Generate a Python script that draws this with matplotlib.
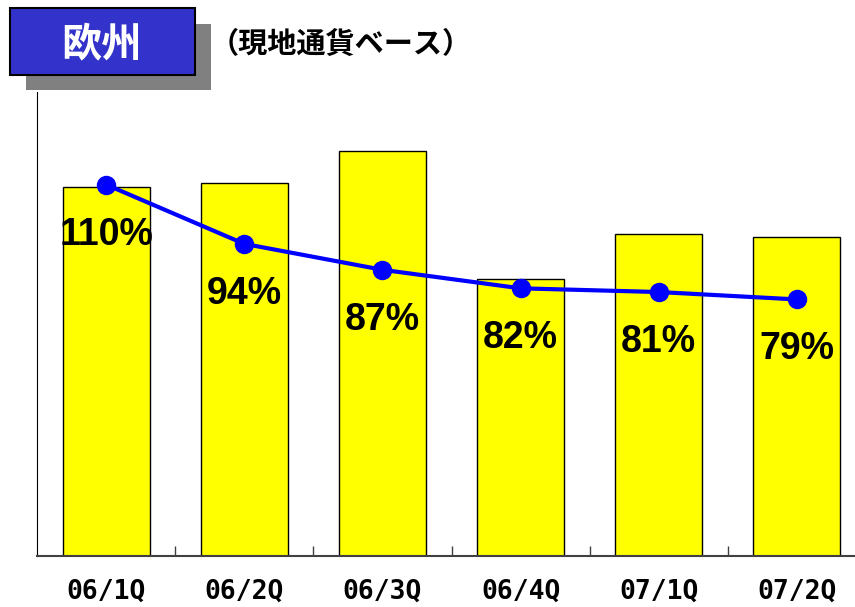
import matplotlib.pyplot as plt
from matplotlib.patches import Rectangle

# data
quarters = ["06/1Q", "06/2Q", "06/3Q", "06/4Q", "07/1Q", "07/2Q"]
sales = [369, 373, 405, 277, 322, 319]          # bar heights (relative, no axis shown)
ratio = [110, 94, 87, 82, 81, 79]               # % labels on the line
ratio_labels = ["110%", "94%", "87%", "82%", "81%", "79%"]

plt.rcParams['font.family'] = ['Liberation Sans', 'Noto Sans CJK JP', 'DejaVu Sans']

fig = plt.figure(figsize=(8.55, 6.07), dpi=100)
ax = fig.add_axes([37/855, 51/607, 818/855, 464/607])

x = list(range(len(quarters)))
ax.bar(x, sales, width=0.63, color='#FFFF00', edgecolor='black', linewidth=1.0, zorder=2)
ax.set_xlim(-0.5, 5.42)
ax.set_ylim(0, 464)

ax.spines['top'].set_visible(False)
ax.spines['right'].set_visible(False)
ax.spines['left'].set_color('black')
ax.spines['bottom'].set_color('#404040')
ax.spines['bottom'].set_linewidth(1.5)
ax.set_yticks([])
ax.set_xticks([i + 0.5 for i in range(5)])
ax.set_xticklabels([])
ax.tick_params(axis='x', direction='in', length=7, width=1, color='#404040')
for i, q in enumerate(quarters):
    ax.text(i, -0.077, q, transform=ax.get_xaxis_transform(),
            ha='center', va='center', fontsize=19, fontweight='bold',
            family=['DejaVu Sans Mono'])

ax2 = ax.twinx()
ax2.set_ylim(9.74, 135.0)
ax2.axis('off')
ax2.plot(x, ratio, color='#0000FF', linewidth=3, marker='o', markersize=13, zorder=3)
for i, (v, lab) in enumerate(zip(ratio, ratio_labels)):
    ax2.annotate(lab, (i, v), xytext=(0, -36), textcoords='offset points',
                 ha='center', va='center', fontsize=27, fontweight='bold')

# title box with shadow
fig.patches.append(Rectangle((26/855, 1 - 90/607), 185/855, 66/607, transform=fig.transFigure,
                             facecolor='#808080', edgecolor='none', zorder=1))
fig.patches.append(Rectangle((10/855, 1 - 75/607), 185/855, 67/607, transform=fig.transFigure,
                             facecolor='#3333CC', edgecolor='black', linewidth=1.5, zorder=2))
fig.text(101/855, 1 - 45/607, "欧州", ha='center', va='center', color='white',
         fontsize=29, fontweight='bold', family=['Noto Sans CJK JP'], zorder=3)
fig.text(210/855, 1 - 44/607, "（現地通貨ベース）", ha='left', va='center', color='black',
         fontsize=21, fontweight='bold', family=['Noto Sans CJK JP'])

fig.savefig('out.png', dpi=100)
